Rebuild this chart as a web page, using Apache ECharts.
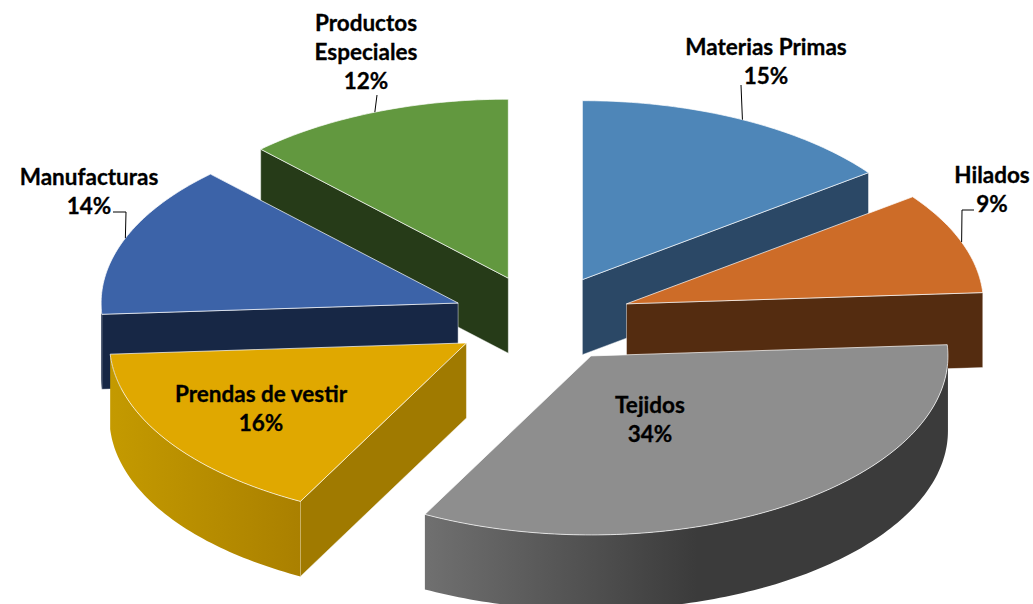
<!DOCTYPE html>
<html lang="es" style="height: 100%">
<head>
    <meta charset="UTF-8">
    <title>Pie 3D</title>
    <script src="https://cdn.jsdelivr.net/npm/echarts@6/dist/echarts.min.js"></script>
</head>
<body style="height: 100%; margin: 0; background: #fff">
<div id="container" style="width: 1033px; height: 604px"></div>

<script type="text/javascript">
    // data, clockwise from 12 o'clock
    var sliceNames = ['Materias Primas', 'Hilados', 'Tejidos', 'Prendas de vestir', 'Manufacturas', 'Productos\nEspeciales'];
    var sliceValues = [14.8, 9.2, 33.7, 16.3, 13.8, 12.2];

    // colours
    var topColors = ['#4e86b8', '#cd6c28', '#8e8e8e', '#e0a800', '#3c63a8', '#62983f'];
    var wallColors = ['#2b4866', '#542c10', '#3b3b3b', '#a07a00', '#172745', '#263b18'];
    var rimColors = ['#2b4866', '#542c10', '#707070', '#c49a00', '#172745', '#263b18'];
    var rimEndColors = ['#2b4866', '#542c10', '#3b3b3b', '#aa8000', '#172745', '#263b18'];
    var rimStops = [1, 1, 0.52, 1, 1, 1];

    // label layout
    var labelCenters = [[766, 61], [992, 189], [650, 419], [261, 408], [89, 191], [366, 51]];
    var leaderStarts = [[741, 85], [974, 210], null, null, [113, 212], [377, 95]];
    var leaderElbows = [null, [962, 210], null, null, [126, 212], null];

    // pie projection
    var cx = 542, cy = 319, rx = 357, ry = 179, depth = 75;
    var explodeX = 90, explodeY = 44;

    var total = sliceValues.reduce(function (a, b) { return a + b; }, 0);
    var startAngles = [];
    var sum = 0;
    sliceValues.forEach(function (v) {
        startAngles.push(sum / total * 360);
        sum += v;
    });

    function rad(d) { return d * Math.PI / 180; }

    function apexOf(i) {
        var mid = rad(startAngles[i] + sliceValues[i] / total * 180);
        return [cx + explodeX * Math.sin(mid), cy - explodeY * Math.cos(mid)];
    }

    function rimPoint(i, deg, down) {
        var a = apexOf(i);
        return [a[0] + rx * Math.sin(rad(deg)), a[1] - ry * Math.cos(rad(deg)) + (down || 0)];
    }

    function arcPoints(i, from, to, down) {
        var pts = [];
        var n = Math.max(2, Math.ceil(Math.abs(to - from)));
        for (var k = 0; k <= n; k++) {
            pts.push(rimPoint(i, from + (to - from) * k / n, down));
        }
        return pts;
    }

    // back slices first, so the nearer ones cover them
    var drawOrder = sliceValues.map(function (v, i) { return i; }).sort(function (p, q) {
        return apexOf(p)[1] - apexOf(q)[1];
    });

    function radialWall(i, deg, z2) {
        var a = apexOf(i), r = rimPoint(i, deg), r2 = rimPoint(i, deg, depth);
        return {
            type: 'polygon',
            z2: z2,
            shape: {points: [a, r, r2, [a[0], a[1] + depth]]},
            style: {fill: wallColors[i], stroke: 'rgba(255,255,255,0.45)', lineWidth: 1}
        };
    }

    function renderSlice(params, api) {
        var i = api.value(0);
        var from = startAngles[i];
        var to = from + api.value(1) / total * 360;
        var z2 = drawOrder.indexOf(i) * 10;
        var children = [];

        if (Math.sin(rad(from)) < -1e-6) children.push(radialWall(i, from, z2));
        if (Math.sin(rad(to)) > 1e-6) children.push(radialWall(i, to, z2));

        // outer wall, only the part facing the viewer
        var wallFrom = Math.max(from, 90), wallTo = Math.min(to, 270);
        if (wallTo > wallFrom) {
            var top = arcPoints(i, wallFrom, wallTo, 0);
            var bottom = arcPoints(i, wallTo, wallFrom, depth);
            var xs = top.map(function (p) { return p[0]; });
            var x0 = Math.min.apply(null, xs), x1 = Math.max.apply(null, xs);
            children.push({
                type: 'polygon',
                z2: z2 + 1,
                shape: {points: top.concat(bottom)},
                style: {
                    fill: new echarts.graphic.LinearGradient(x0, 0, x1, 0, [
                        {offset: 0, color: rimColors[i]},
                        {offset: rimStops[i], color: rimEndColors[i]},
                        {offset: 1, color: rimEndColors[i]}
                    ], true)
                }
            });
        }

        // top face
        var apex = apexOf(i);
        children.push({
            type: 'polygon',
            z2: z2 + 2,
            shape: {points: [apex].concat(arcPoints(i, from, to, 0))},
            style: {fill: topColors[i], stroke: 'rgba(255,255,255,0.7)', lineWidth: 1}
        });

        return {type: 'group', children: children};
    }

    function renderLabel(params, api) {
        var i = api.value(0);
        var pos = labelCenters[i];
        var children = [{
            type: 'text',
            z2: 100,
            style: {
                text: sliceNames[i] + '\n' + Math.round(api.value(1)) + '%',
                x: pos[0],
                y: pos[1],
                align: 'center',
                verticalAlign: 'middle',
                font: 'bold 22.5px Lato',
                lineHeight: 29,
                fill: '#000',
                stroke: '#000',
                lineWidth: 0.3
            }
        }];
        if (leaderStarts[i]) {
            var mid = startAngles[i] + api.value(1) / total * 180;
            var pts = [leaderStarts[i]];
            if (leaderElbows[i]) pts.push(leaderElbows[i]);
            pts.push(rimPoint(i, mid));
            children.push({
                type: 'polyline',
                z2: 99,
                shape: {points: pts},
                style: {fill: null, stroke: '#000', lineWidth: 1}
            });
        }
        return {type: 'group', children: children};
    }

    var sliceData = drawOrder.map(function (i) { return [i, sliceValues[i]]; });

    var dom = document.getElementById("container");
    var myChart = echarts.init(dom, null, {renderer: 'svg'});
    var option = {
        animation: false,
        backgroundColor: '#fff',
        series: [
            {type: 'custom', coordinateSystem: 'none', renderItem: renderSlice, data: sliceData, z: 2},
            {type: 'custom', coordinateSystem: 'none', renderItem: renderLabel, data: sliceData, z: 3}
        ]
    };
    myChart.setOption(option, true);
</script>
</body>
</html>
